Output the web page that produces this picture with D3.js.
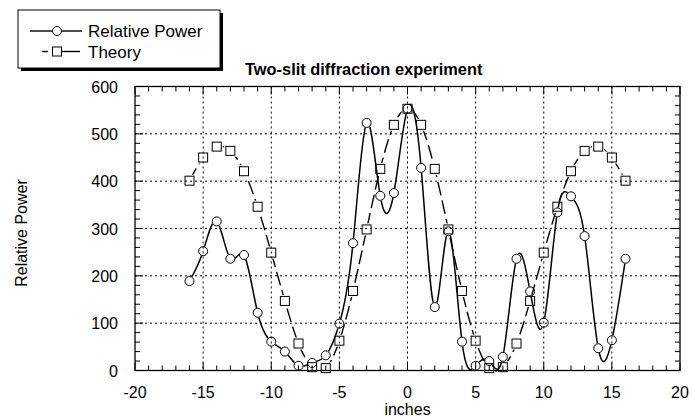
<!DOCTYPE html>
<html><head><meta charset="utf-8">
<script src="https://cdn.jsdelivr.net/npm/d3@7"></script>
<style>
body{margin:0;background:#fff;}
svg{display:block;font-family:"Liberation Sans",Arial,sans-serif;}
</style></head>
<body><svg id="c" width="693" height="420"></svg>
<script>
const inches = [-16,-15,-14,-13,-12,-11,-10,-9,-8,-7,-6,-5,-4,-3,-2,-1,0,1,2,3,4,5,6,7,8,9,10,11,12,13,14,15,16];
const relativePower = [189,252,315,236,244,122,61,40,10,16,32,99,269,523,369,375,553,428,134,294,61,10,20,29,236,167,101,334,368,284,47,64,236];
const theory = [401,450,473,464,421,346,249,147,57,7,5,63,168,298,426,519,553,519,426,298,168,63,5,7,57,147,249,346,421,464,473,450,401];
const xTicks = [-20,-15,-10,-5,0,5,10,15,20];
const yTicks = [0,100,200,300,400,500,600];
const titleText = "Two-slit diffraction experiment";
const xLabel = "inches", yLabel = "Relative Power";
const seriesNames = ["Relative Power","Theory"];

const svg = d3.select("#c");
const L=135, R=680, T=86.5, B=370.5;
const x = d3.scaleLinear().domain([-20,20]).range([L,R]);
const y = d3.scaleLinear().domain([0,600]).range([B,T]);

// grid
const g = svg.append("g");
g.selectAll(".gx").data(xTicks.slice(1,-1)).join("line")
  .attr("x1",d=>x(d)).attr("x2",d=>x(d)).attr("y1",T).attr("y2",B)
  .attr("stroke","#000").attr("stroke-width",1).attr("stroke-dasharray","2,3");
g.selectAll(".gy").data(yTicks.slice(1,-1)).join("line")
  .attr("y1",d=>y(d)).attr("y2",d=>y(d)).attr("x1",L).attr("x2",R)
  .attr("stroke","#000").attr("stroke-width",1).attr("stroke-dasharray","2,3");

// ticks (inward on all sides)
const xMinor = d3.range(-20,20.01,1), yMinor = d3.range(0,600.1,20);
const tk = svg.append("g").attr("stroke","#000").attr("stroke-width",1);
xMinor.forEach(v=>{
  const len = (v%5===0)?8:5;
  tk.append("line").attr("x1",x(v)).attr("x2",x(v)).attr("y1",B).attr("y2",B-len);
  tk.append("line").attr("x1",x(v)).attr("x2",x(v)).attr("y1",T).attr("y2",T+len);
});
yMinor.forEach(v=>{
  const len = (v%100===0)?8:5;
  tk.append("line").attr("y1",y(v)).attr("y2",y(v)).attr("x1",L).attr("x2",L+len);
  tk.append("line").attr("y1",y(v)).attr("y2",y(v)).attr("x1",R).attr("x2",R-len);
});
svg.append("rect").attr("x",L).attr("y",T).attr("width",R-L).attr("height",B-T)
  .attr("fill","none").attr("stroke","#000").attr("stroke-width",1.3);

// tick labels
svg.append("g").selectAll("text").data(xTicks).join("text")
  .attr("x",d=>x(d)).attr("y",398).attr("text-anchor","middle")
  .attr("font-size",16).text(d=>d);
svg.append("g").selectAll("text").data(yTicks).join("text")
  .attr("x",118).attr("y",d=>y(d)+6).attr("text-anchor","end")
  .attr("font-size",16).text(d=>d);

svg.append("text").attr("x",x(0)).attr("y",415).attr("text-anchor","middle").attr("font-size",16).text(xLabel);
svg.append("text").attr("transform","translate(27,233) rotate(-90)").attr("text-anchor","middle").attr("font-size",16).text(yLabel);
svg.append("text").attr("x",245).attr("y",74.5).attr("font-size",16.4).attr("font-weight","bold").text(titleText);

// masks to break lines at markers
const defs = svg.append("defs");
const m1 = defs.append("mask").attr("id","m1").attr("maskUnits","userSpaceOnUse")
  .attr("x",0).attr("y",0).attr("width",693).attr("height",420);
m1.append("rect").attr("width",693).attr("height",420).attr("fill","#fff");
m1.selectAll("circle").data(inches).join("circle")
  .attr("cx",d=>x(d)).attr("cy",(d,i)=>y(relativePower[i])).attr("r",5).attr("fill","#000");
const m2 = defs.append("mask").attr("id","m2").attr("maskUnits","userSpaceOnUse")
  .attr("x",0).attr("y",0).attr("width",693).attr("height",420);
m2.append("rect").attr("width",693).attr("height",420).attr("fill","#fff");
m2.selectAll("rect.s").data(inches).join("rect")
  .attr("x",d=>x(d)-6).attr("y",(d,i)=>y(theory[i])-6).attr("width",12).attr("height",12).attr("fill","#000");

const line1 = d3.line().x((d,i)=>x(inches[i])).y(d=>y(d)).curve(d3.curveNatural);
svg.append("path").attr("d",line1(theory)).attr("fill","none").attr("stroke","#000")
  .attr("stroke-width",1.4).attr("stroke-dasharray","14,5").attr("mask","url(#m2)");
svg.append("path").attr("d",line1(relativePower)).attr("fill","none").attr("stroke","#000")
  .attr("stroke-width",1.5).attr("mask","url(#m1)");

svg.append("g").selectAll("rect").data(inches).join("rect")
  .attr("x",d=>x(d)-4.5).attr("y",(d,i)=>y(theory[i])-4.5).attr("width",9).attr("height",9)
  .attr("fill","none").attr("stroke","#000").attr("stroke-width",1);
svg.append("g").selectAll("circle").data(inches).join("circle")
  .attr("cx",d=>x(d)).attr("cy",(d,i)=>y(relativePower[i])).attr("r",4.5)
  .attr("fill","none").attr("stroke","#000").attr("stroke-width",1);

// legend
svg.append("rect").attr("x",21).attr("y",13).attr("width",202).attr("height",58).attr("fill","#000");
svg.append("rect").attr("x",18).attr("y",10).attr("width",202).attr("height",58).attr("fill","#fff").attr("stroke","#000").attr("stroke-width",1);
const lg = svg.append("g");
lg.append("line").attr("x1",30).attr("x2",52).attr("y1",31).attr("y2",31).attr("stroke","#000").attr("stroke-width",1.4);
lg.append("line").attr("x1",62).attr("x2",82).attr("y1",31).attr("y2",31).attr("stroke","#000").attr("stroke-width",1.4);
lg.append("circle").attr("cx",57).attr("cy",31).attr("r",4.5).attr("fill","none").attr("stroke","#000");
lg.append("text").attr("x",88).attr("y",37).attr("font-size",17).text(seriesNames[0]);
lg.append("line").attr("x1",42).attr("x2",48).attr("y1",51.5).attr("y2",51.5).attr("stroke","#000").attr("stroke-width",1.4);
lg.append("line").attr("x1",62).attr("x2",80).attr("y1",51.5).attr("y2",51.5).attr("stroke","#000").attr("stroke-width",1.4);
lg.append("rect").attr("x",52.5).attr("y",47).attr("width",9).attr("height",9).attr("fill","none").attr("stroke","#000");
lg.append("text").attr("x",88).attr("y",57.5).attr("font-size",17).text(seriesNames[1]);
</script></body></html>
